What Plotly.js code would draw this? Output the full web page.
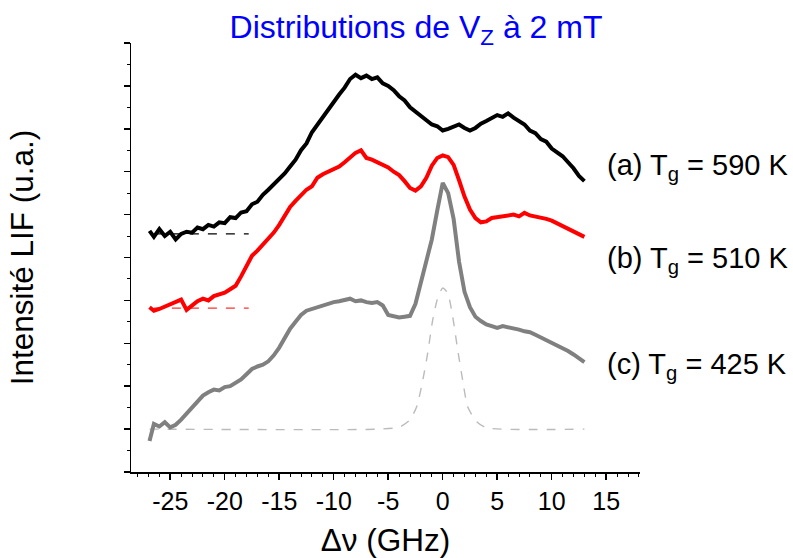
<!DOCTYPE html>
<html><head><meta charset="utf-8">
<script src="https://cdn.plot.ly/plotly-3.0.1.min.js"></script>
<style>html,body{margin:0;padding:0;background:#fff}#chart{width:793px;height:558px}</style>
</head><body><div id="chart"></div>
<script>
// shared frequency grid (GHz)
const freq = [-26.9,-26.5,-26,-25.5,-25,-24.5,-24,-23.5,-23,-22.5,-22,-21.5,-21,-20.5,-20,-19.5,-19,-18.5,-18,-17.5,-17,-16.5,-16,-15.5,-15,-14.5,-14,-13.5,-13,-12.5,-12,-11.5,-11,-10.5,-10,-9.5,-9,-8.5,-8,-7.5,-7,-6.5,-6,-5.5,-5,-4.5,-4,-3.5,-3,-2.5,-2,-1.5,-1,-0.5,0,0.5,1,1.5,2,2.5,3,3.5,4,4.5,5,5.5,6,6.5,7,7.5,8,8.5,9,9.5,10,10.5,11,11.5,12,12.5,13];
// (a) Tg = 590 K
const curveA = [5.62,5.48,5.66,5.50,5.60,5.42,5.55,5.60,5.58,5.70,5.66,5.76,5.72,5.82,5.80,5.94,5.92,6.05,6.08,6.24,6.30,6.46,6.58,6.70,6.82,6.96,7.12,7.28,7.50,7.66,7.92,8.10,8.30,8.46,8.62,8.80,8.96,9.16,9.26,9.18,9.24,9.16,9.20,9.06,9.00,8.90,8.76,8.66,8.50,8.40,8.28,8.20,8.10,8.06,7.96,8.00,8.04,8.10,8.02,7.96,8.02,8.12,8.18,8.26,8.32,8.28,8.36,8.26,8.18,8.10,7.96,7.90,7.76,7.70,7.54,7.44,7.36,7.22,7.08,6.90,6.78];
// (b) Tg = 510 K
const curveB = [3.84,3.76,3.80,3.86,3.92,3.96,4.02,3.78,3.88,3.98,4.04,4.00,4.10,4.14,4.18,4.26,4.34,4.56,4.82,5.04,5.16,5.30,5.44,5.58,5.76,5.96,6.18,6.32,6.44,6.58,6.66,6.86,6.94,7.00,7.06,7.12,7.22,7.32,7.44,7.50,7.32,7.28,7.22,7.16,7.10,7.00,6.92,6.78,6.62,6.56,6.66,6.86,7.14,7.32,7.38,7.34,7.16,6.80,6.42,6.12,5.92,5.82,5.84,5.92,5.94,5.96,5.98,6.00,5.96,6.04,5.98,5.96,5.92,5.90,5.86,5.80,5.72,5.68,5.62,5.56,5.48];
// (c) Tg = 425 K
const curveC = [0.72,1.12,1.06,1.16,1.04,1.10,1.22,1.36,1.50,1.66,1.78,1.86,1.92,1.90,1.98,2.00,2.08,2.16,2.28,2.40,2.46,2.50,2.58,2.72,2.90,3.14,3.34,3.50,3.66,3.76,3.80,3.84,3.88,3.94,3.96,3.98,4.00,4.04,3.98,4.00,3.96,3.94,3.96,3.88,3.66,3.62,3.60,3.62,3.64,3.92,4.42,4.96,5.42,6.10,6.74,6.50,5.90,4.90,4.20,3.84,3.62,3.52,3.44,3.40,3.36,3.40,3.38,3.34,3.32,3.28,3.26,3.20,3.14,3.08,3.02,2.94,2.88,2.82,2.74,2.66,2.56];
// baselines (dashed)
const xBaseA = [-26.5,-17.8];
const yBaseA = [5.55,5.55];
const xBaseB = [-26.5,-17.8];
const yBaseB = [3.82,3.82];
// Gaussian component (dashed grey)
const xG = [-26.9,-5.78,-3.94,-3.03,-2.39,-1.83,-1.38,-0.92,-0.46,0.0,0.46,0.92,1.38,1.83,2.29,3.12,4.04,13.0];
const yG = [1.0,1.0,1.05,1.21,1.52,2.14,2.77,3.54,4.06,4.29,4.17,3.61,2.84,2.14,1.52,1.17,1.03,1.0];
// x tick labels
const xTickVals = [-25,-20,-15,-10,-5,0,5,10,15];
const xTickText = ['-25','-20','-15','-10','-5','0','5','10','15'];
// labels
const labels = ['(a) T<sub>g</sub> = 590 K','(b) T<sub>g</sub> = 510 K','(c) T<sub>g</sub> = 425 K'];
const labelX = [14.86,14.86,14.86];
const labelY = [7.12,4.95,2.46];

const fnt = 'Liberation Sans, Arial, sans-serif';
const traces = [
  {x:xBaseA,y:yBaseA,mode:'lines',line:{color:'#000',width:1.2,dash:'dash'},hoverinfo:'skip'},
  {x:xBaseB,y:yBaseB,mode:'lines',line:{color:'#ff3030',width:1.2,dash:'dash'},hoverinfo:'skip'},
  {x:xG,y:yG,mode:'lines',line:{color:'#bbbbbb',width:1.4,dash:'dash',shape:'spline',smoothing:0.6}},
  {x:freq,y:curveA,mode:'lines',line:{color:'#000',width:4}},
  {x:freq,y:curveB,mode:'lines',line:{color:'#ff0000',width:4}},
  {x:freq,y:curveC,mode:'lines',line:{color:'#808080',width:4}}
];
const annotations = labels.map((t,i)=>({x:labelX[i],y:labelY[i],xref:'x',yref:'y',text:t,showarrow:false,xanchor:'left',yanchor:'middle',font:{family:fnt,size:29,color:'#000'}}));
const pad = '\u00A0'.repeat(8);
const layout = {
  width:793,height:558,showlegend:false,
  paper_bgcolor:'#fff',plot_bgcolor:'#fff',
  margin:{l:131,r:153,t:43,b:86},
  title:{text:'Distributions de V<sub>Z</sub> à 2 mT',font:{family:fnt,size:32,color:'#0000ff'},x:416/793,xref:'container',xanchor:'center',y:0.952,yanchor:'middle'},
  xaxis:{range:[-28.6,18.1],tickmode:'array',tickvals:xTickVals,ticktext:xTickText,ticks:'outside',ticklen:6,tickwidth:1.5,tickcolor:'#000',
    minor:{tickmode:'linear',tick0:0,dtick:1,ticks:'outside',ticklen:3,tickwidth:1,tickcolor:'#000'},
    showline:true,linecolor:'#000',linewidth:1.5,showgrid:false,zeroline:false,
    tickfont:{family:fnt,size:25,color:'#000'},
    title:{text:pad+'Δν (GHz)',font:{family:fnt,size:31.5,color:'#000'},standoff:19}},
  yaxis:{range:[0,10],tickmode:'linear',tick0:0,dtick:1,ticks:'outside',ticklen:6,tickwidth:1.5,tickcolor:'#000',showticklabels:false,
    minor:{dtick:0.5,ticks:'outside',ticklen:3,tickwidth:1,tickcolor:'#000'},
    showline:true,linecolor:'#000',linewidth:1.5,showgrid:false,zeroline:false,
    title:{text:'Intensité LIF (u.a.)',font:{family:fnt,size:31.5,color:'#000'},standoff:80}},
  annotations:annotations
};
Plotly.newPlot('chart',traces,layout,{displayModeBar:false,staticPlot:true});
</script></body></html>
